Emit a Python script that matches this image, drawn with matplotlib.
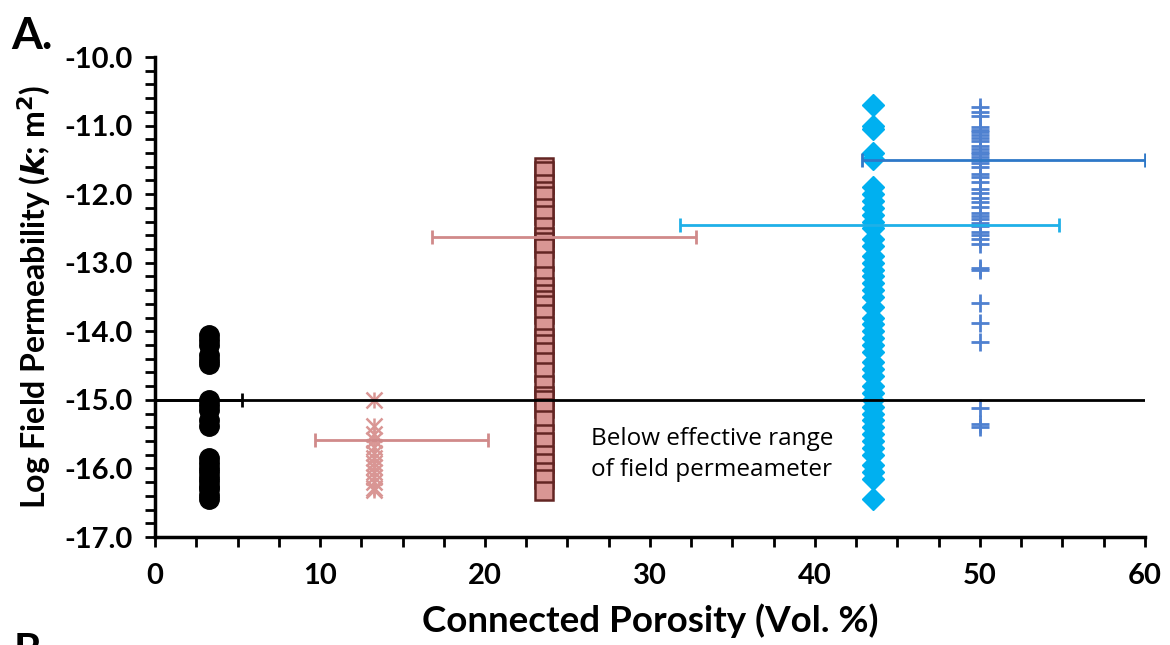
import matplotlib
matplotlib.use("Agg")
import matplotlib.pyplot as plt
from matplotlib.ticker import MultipleLocator, FormatStrFormatter

# Connected porosity (vol. %) of each lithology group
por_black = 3.3
por_xmark = 13.3
por_square = 23.6
por_diamond = 43.5
por_plus = 50.0

# Log field permeability measurements (log10 k, m^2)
k_black = [-14.05, -14.12, -14.2, -14.35, -14.42, -14.47, -15.0, -15.08, -15.15,
           -15.3, -15.38, -15.85, -15.92, -16.0, -16.05, -16.12, -16.18, -16.25,
           -16.3, -16.38, -16.45]
k_xmark = [-15.0, -15.38, -15.5, -15.58, -15.68, -15.78, -15.85, -15.92, -15.98,
           -16.05, -16.12, -16.2, -16.28, -16.32]
k_square = [-11.6, -11.66, -11.85, -11.95, -12.02, -12.2, -12.3, -12.48, -12.62,
            -12.7, -12.78, -12.98, -13.2, -13.35, -13.45, -13.55, -13.62, -13.75,
            -13.92, -14.1, -14.18, -14.3, -14.45, -14.6, -14.78, -14.95, -15.0,
            -15.12, -15.3, -15.5, -15.62, -15.8, -15.92, -16.05, -16.15, -16.33]
k_diamond = [-10.7, -11.0, -11.05, -11.4, -11.48, -11.9, -12.0, -12.1, -12.2,
             -12.3, -12.4, -12.5, -12.65, -12.75, -12.9, -13.0, -13.1, -13.2,
             -13.3, -13.4, -13.5, -13.65, -13.8, -13.9, -14.0, -14.1, -14.2,
             -14.3, -14.45, -14.55, -14.65, -14.8, -14.9, -15.0, -15.1, -15.2,
             -15.3, -15.4, -15.5, -15.6, -15.7, -15.8, -15.95, -16.05, -16.15,
             -16.45]
k_plus = [-10.73, -10.8, -10.86, -11.02, -11.06, -11.1, -11.14, -11.18, -11.22,
          -11.3, -11.34, -11.38, -11.42, -11.46, -11.5, -11.55, -11.6, -11.7,
          -11.75, -11.82, -11.92, -11.98, -12.05, -12.12, -12.18, -12.28, -12.32,
          -12.36, -12.42, -12.47, -12.55, -12.6, -12.66, -12.72, -13.08, -13.11,
          -13.58, -13.88, -14.15, -15.12, -15.35, -15.4]

# Porosity ranges shown as horizontal error bars: (y, centre, lower, upper)
bar_black = (-15.0, 3.3, 4.0, 2.0)
bar_xmark = (-15.58, 13.3, 3.6, 6.9)
bar_square = (-12.62, 23.6, 6.8, 9.2)
bar_diamond = (-12.45, 43.5, 11.7, 11.3)
bar_plus = (-11.5, 50.0, 7.15, 10.0)

detection_limit = -15.0

c_pink = "#d99694"
c_brown = "#632523"
c_cyan = "#00b0f0"
c_plus = "#4f81d0"
c_blue = "#2e78c8"
c_pinkbar = "#d08a8a"

plt.rcParams["font.family"] = ["Lato", "DejaVu Sans"]

fig = plt.figure(figsize=(11.7, 6.45), dpi=100)
ax = fig.add_axes([0.1325, 0.1674, 0.8461, 0.7442])

ax.plot([por_black] * len(k_black), k_black, "o", color="black", ms=14,
        zorder=2, clip_on=False)
# star marker: an x with a vertical stroke through it
ax.plot([por_xmark] * len(k_xmark), k_xmark, "x", color=c_pink, ms=11,
        mew=1.8, zorder=2)
ax.plot([por_xmark] * len(k_xmark), k_xmark, "|", color=c_pink, ms=12,
        mew=1.8, zorder=2)
ax.plot([por_square] * len(k_square), k_square, "s", mfc=c_pink, mec=c_brown,
        ms=12.5, mew=1.8, zorder=2)
ax.plot([por_diamond] * len(k_diamond), k_diamond, "D", color=c_cyan, ms=11,
        zorder=2, clip_on=False)
ax.plot([por_plus] * len(k_plus), k_plus, "+", color=c_plus, ms=13, mew=2,
        zorder=2)

ax.axhline(detection_limit, color="black", lw=2, zorder=3)

for (y, xc, lo, hi), col in [(bar_black, "black"), (bar_xmark, c_pinkbar),
                             (bar_square, c_pinkbar), (bar_diamond, "#1fb0e8"),
                             (bar_plus, c_blue)]:
    ax.errorbar([xc], [y], xerr=[[lo], [hi]], fmt="none", ecolor=col,
                elinewidth=2, capsize=5, capthick=2, zorder=4, clip_on=True)

ax.text(26.4, -15.8, "Below effective range\nof field permeameter",
        fontsize=17.5, va="center", ha="left", linespacing=1.4,
        family=["Open Sans", "DejaVu Sans"])

ax.set_xlim(0, 60)
ax.set_ylim(-17, -10)
ax.xaxis.set_major_locator(MultipleLocator(10))
ax.xaxis.set_minor_locator(MultipleLocator(2.5))
ax.yaxis.set_major_locator(MultipleLocator(1))
ax.yaxis.set_minor_locator(MultipleLocator(0.2))
ax.yaxis.set_major_formatter(FormatStrFormatter("%.1f"))

for s in ["top", "right"]:
    ax.spines[s].set_visible(False)
for s in ["left", "bottom"]:
    ax.spines[s].set_linewidth(2.5)

ax.tick_params(which="both", direction="out", width=2, length=7, color="black")
ax.tick_params(axis="x", which="major", labelsize=21, pad=12)
ax.tick_params(axis="y", which="major", labelsize=21, pad=9)
for lab in ax.get_xticklabels() + ax.get_yticklabels():
    lab.set_fontweight("bold")

ax.set_xlabel("Connected Porosity (Vol. %)", fontsize=26.5, fontweight="bold",
              labelpad=10)
ax.set_ylabel(r"Log Field Permeability ($\boldsymbol{k}$; m$^\mathbf{2}$)",
              fontsize=23, fontweight="bold", labelpad=8)

fig.text(0.01, 0.975, "A.", fontsize=32, fontweight="bold", va="top",
         ha="left")
fig.text(0.012, -0.04, "B.", fontsize=30, fontweight="bold", va="bottom",
         ha="left")

fig.savefig("out.png", dpi=100)
